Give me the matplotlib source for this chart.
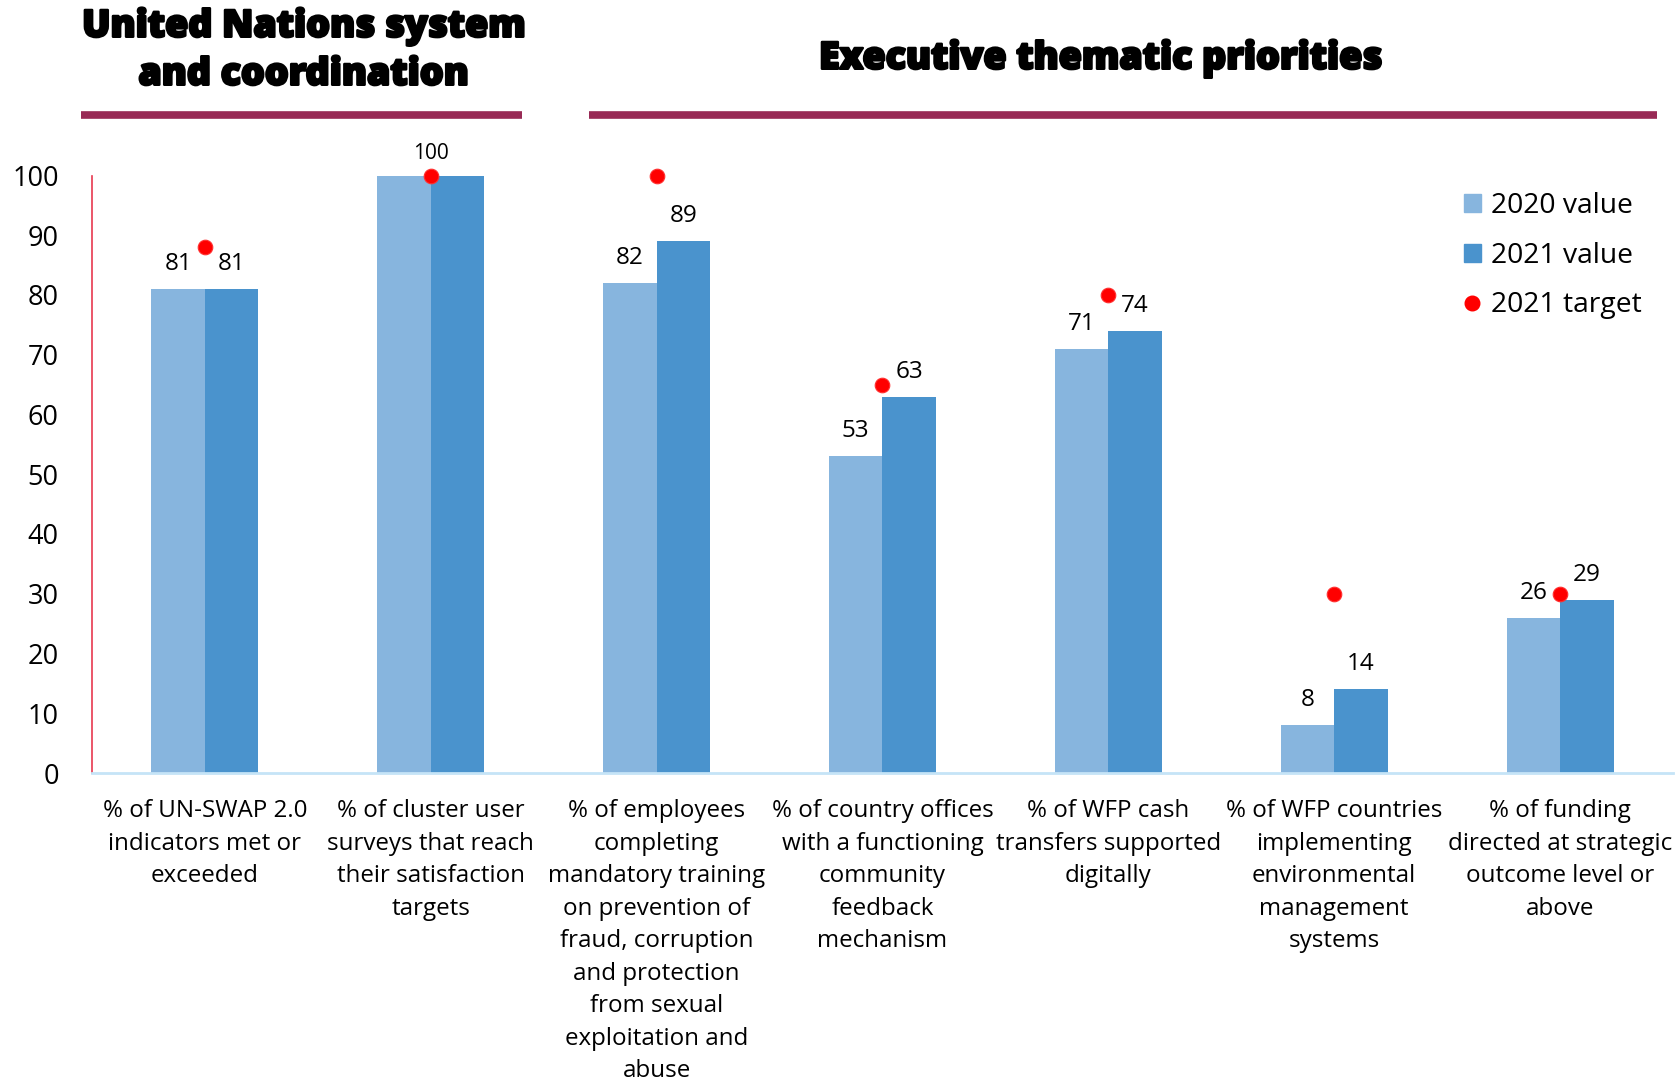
import numpy as np
import matplotlib.pyplot as plt
import matplotlib.patheffects as pe
from matplotlib.lines import Line2D
from matplotlib.patches import Patch

plt.rcParams['font.family'] = ['Open Sans', 'DejaVu Sans']

categories = [
    "% of UN-SWAP 2.0\nindicators met or\nexceeded",
    "% of cluster user\nsurveys that reach\ntheir satisfaction\ntargets",
    "% of employees\ncompleting\nmandatory training\non prevention of\nfraud, corruption\nand protection\nfrom sexual\nexploitation and\nabuse",
    "% of country offices\nwith a functioning\ncommunity\nfeedback\nmechanism",
    "% of WFP cash\ntransfers supported\ndigitally",
    "% of WFP countries\nimplementing\nenvironmental\nmanagement\nsystems",
    "% of funding\ndirected at strategic\noutcome level or\nabove",
]
value_2020 = [81, 100, 82, 53, 71, 8, 26]
value_2021 = [81, 100, 89, 63, 74, 14, 29]
target_2021 = [88, 100, 100, 65, 80, 30, 30]
yticks = [0, 10, 20, 30, 40, 50, 60, 70, 80, 90, 100]

LIGHT = "#87b5de"
DARK = "#4a93cd"
MAROON = "#982a55"

W, H = 1678, 1081
fig = plt.figure(figsize=(W / 100, H / 100), dpi=100)
ax = fig.add_axes([92 / W, 1 - 773 / H, (1673 - 92) / W, (773 - 175.5) / H])

x = np.arange(len(categories))
bw = 0.237
ax.bar(x - bw / 2, value_2020, bw, color=LIGHT, zorder=2)
ax.bar(x + bw / 2, value_2021, bw, color=DARK, zorder=2)
ax.plot(x, target_2021, "o", color="#ff0000", markersize=10.5, zorder=4,
        clip_on=False, markeredgecolor="#ff3030", markeredgewidth=0.8)

# value labels; the 100/100 pair gets a single label over the group
for i in range(len(x)):
    if value_2020[i] == value_2021[i] == 100:
        ax.annotate(str(value_2021[i]), (x[i], value_2021[i]), xytext=(0, 16),
                    textcoords="offset points", ha="center", va="center", fontsize=15)
        continue
    for dx, v in ((-bw / 2, value_2020[i]), (bw / 2, value_2021[i])):
        ax.annotate(str(v), (x[i] + dx, v), xytext=(0, 18), textcoords="offset points",
                    ha="center", va="center", fontsize=17.5)

ax.set_xlim(-0.5, len(x) - 0.5)
ax.set_ylim(0, 100)
ax.set_yticks(yticks)
ax.set_xticks(x)
ax.set_xticklabels(categories, fontsize=17.4, linespacing=1.47, va="top")
ax.tick_params(axis="x", length=0, pad=19)
ax.tick_params(axis="y", length=0, pad=24, labelsize=19.5)
for s in ("top", "right"):
    ax.spines[s].set_visible(False)
ax.spines["left"].set_color("#e8384f")
ax.spines["left"].set_linewidth(1.2)
ax.spines["bottom"].set_color("#c5e4f7")
ax.spines["bottom"].set_linewidth(2)

# section headers with underline bars
thick = [pe.withStroke(linewidth=1.8, foreground="black")]
fig.text(304 / W, 1 - 50 / H, "United Nations system\nand coordination", ha="center",
         va="center", fontsize=27, fontweight="heavy", linespacing=1.3, path_effects=thick)
fig.text(1101 / W, 1 - 58 / H, "Executive thematic priorities", ha="center",
         va="center", fontsize=27, fontweight="heavy", path_effects=thick)
for x0, x1 in ((81, 522), (589, 1657)):
    fig.add_artist(Line2D([x0 / W, x1 / W], [1 - 114.5 / H] * 2, color=MAROON,
                          linewidth=5.5, solid_capstyle="butt"))

handles = [
    Patch(color=LIGHT, label="2020 value"),
    Patch(color=DARK, label="2021 value"),
    Line2D([], [], marker="o", linestyle="none", color="#ff0000", markersize=10.5,
           label="2021 target"),
]
fig.legend(handles=handles, loc="upper left", bbox_to_anchor=(1464 / W, 1 - 192 / H),
           frameon=False, fontsize=20.3, handlelength=0.6, handleheight=0.6,
           handletextpad=0.35, labelspacing=0.77, borderpad=0, borderaxespad=0)

fig.savefig("out.png", dpi=100)
